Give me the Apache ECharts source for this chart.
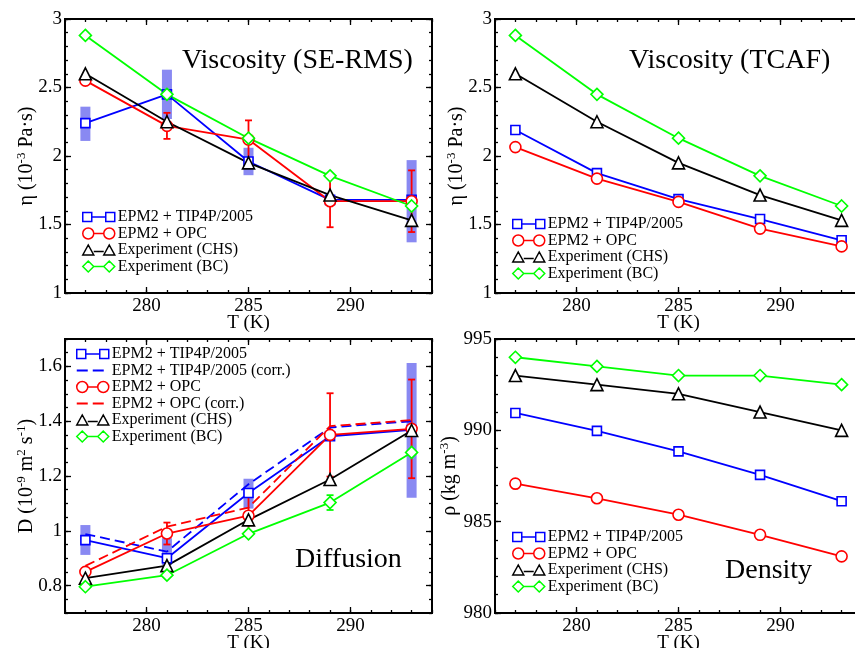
<!DOCTYPE html>
<html><head><meta charset="utf-8">
<script src="https://cdn.jsdelivr.net/npm/echarts@6/dist/echarts.min.js"></script>
<style>html,body{margin:0;padding:0;background:#fff}#c{width:855px;height:648px}</style>
</head><body><div id="c"></div>
<script>
// ---------- data ----------
const T = [277, 281, 285, 289, 293];
const xTickLabels = [280, 285, 290];

// Viscosity (SE-RMS)
const visSE_tip = [2.24, 2.45, 1.96, 1.68, 1.68];
const visSE_tipBandLo = [2.11, 2.27, 1.86, null, 1.37];
const visSE_tipBandHi = [2.36, 2.63, 2.06, null, 1.97];
const visSE_opc = [2.55, 2.22, 2.12, 1.67, 1.67];
const visSE_opcErr = [null, 0.095, 0.14, 0.19, 0.225];
// Viscosity (TCAF)
const visTC_tip = [2.19, 1.875, 1.685, 1.54, 1.385];
const visTC_opc = [2.065, 1.835, 1.665, 1.47, 1.34];
// Experiment viscosity
const visExpCHS = [2.60, 2.25, 1.95, 1.715, 1.53];
const visExpBC = [2.88, 2.45, 2.13, 1.855, 1.635];
const visTicks = [1, 1.5, 2, 2.5, 3];

// Diffusion
const D_tip = [0.966, 0.90, 1.138, 1.345, 1.368];
const D_tipBandLo = [0.912, 0.875, 1.081, null, 1.121];
const D_tipBandHi = [1.021, 0.973, 1.19, null, 1.612];
const D_tipCorr = [0.988, 0.924, 1.17, 1.377, 1.40];
const D_opc = [0.85, 0.99, 1.055, 1.35, 1.372];
const D_opcErr = [null, 0.04, 0.075, 0.152, 0.18];
const D_opcCorr = [0.872, 1.015, 1.085, 1.382, 1.404];
const D_expCHS = [0.827, 0.873, 1.04, 1.187, 1.366];
const D_expBC = [0.796, 0.838, 0.989, 1.103, 1.286];
const D_expBCErr = [null, null, null, 0.027, null];
const DTicks = [0.8, 1, 1.2, 1.4, 1.6];

// Density
const rho_tip = [990.95, 989.97, 988.85, 987.56, 986.12];
const rho_opc = [987.08, 986.28, 985.38, 984.28, 983.1];
const rho_expCHS = [993, 992.5, 992, 991, 990];
const rho_expBC = [994, 993.5, 993, 993, 992.5];
const rhoTicks = [980, 985, 990, 995];

const N_TIP = 'EPM2 + TIP4P/2005', N_TIPC = 'EPM2 + TIP4P/2005 (corr.)';
const N_OPC = 'EPM2 + OPC', N_OPCC = 'EPM2 + OPC (corr.)';
const N_CHS = 'Experiment (CHS)', N_BC = 'Experiment (BC)';

// ---------- styling ----------
const F = 'Liberation Serif';
const BLUE = '#0000ff', RED = '#ff0000', BLACK = '#000000', GREEN = '#00ff00';
const BAND = 'rgba(20,20,230,0.5)';

const grids = [
  {left: 65, top: 19, width: 367, height: 274},
  {left: 495, top: 19, width: 367, height: 274},
  {left: 65, top: 339, width: 367, height: 274},
  {left: 495, top: 339, width: 367, height: 274}
].map(g => Object.assign(g, {show: true, borderColor: '#000', borderWidth: 2, backgroundColor: 'transparent', outerBoundsMode: 'none', containLabel: false}));

const tickLine = {color: '#000', width: 1.3};
const labelStyle = {color: '#000', fontFamily: F, fontSize: 19};
const richName = {
  n: {fontFamily: F, fontSize: 20, color: '#000', lineHeight: 23},
  s: {fontFamily: F, fontSize: 13, color: '#000', verticalAlign: 'top', lineHeight: 13}
};

function xAxesFor(g) {
  const base = {type: 'value', gridIndex: g, min: 276, max: 294, splitLine: {show: false}, axisLine: {show: false}};
  return [
    Object.assign({}, base, {position: 'bottom', interval: 1,
      axisTick: {show: true, inside: true, length: 3, lineStyle: tickLine},
      axisLabel: Object.assign({customValues: xTickLabels, margin: 4}, labelStyle),
      name: 'T (K)', nameLocation: 'middle', nameGap: 21, nameMoveOverlap: false,
      nameTextStyle: {fontFamily: F, fontSize: 19, color: '#000'}}),
    Object.assign({}, base, {position: 'bottom',
      axisTick: {show: true, inside: true, length: 6, customValues: xTickLabels, lineStyle: tickLine},
      axisLabel: {show: false}}),
    Object.assign({}, base, {position: 'top', interval: 1,
      axisTick: {show: true, inside: true, length: 3, lineStyle: tickLine},
      axisLabel: {show: false}}),
    Object.assign({}, base, {position: 'top',
      axisTick: {show: true, inside: true, length: 6, customValues: xTickLabels, lineStyle: tickLine},
      axisLabel: {show: false}})
  ];
}
function yAxesFor(g, min, max, minor, majors, name, gap) {
  const base = {type: 'value', gridIndex: g, min: min, max: max, splitLine: {show: false}, axisLine: {show: false}};
  return [
    Object.assign({}, base, {position: 'left', interval: minor,
      axisTick: {show: true, inside: true, length: 3, lineStyle: tickLine},
      axisLabel: Object.assign({customValues: majors, margin: 3}, labelStyle),
      name: name, nameLocation: 'middle', nameGap: gap, nameMoveOverlap: false,
      nameTextStyle: {rich: richName}}),
    Object.assign({}, base, {position: 'left',
      axisTick: {show: true, inside: true, length: 6, customValues: majors, lineStyle: tickLine},
      axisLabel: {show: false}}),
    Object.assign({}, base, {position: 'right', interval: minor,
      axisTick: {show: true, inside: true, length: 3, lineStyle: tickLine},
      axisLabel: {show: false}}),
    Object.assign({}, base, {position: 'right',
      axisTick: {show: true, inside: true, length: 6, customValues: majors, lineStyle: tickLine},
      axisLabel: {show: false}})
  ];
}

const etaName = '{n|η (10}{s|-3}{n| Pa·s)}';
const DName = '{n|D (10}{s|-9}{n| m}{s|2}{n| s}{s|-1}{n|)}';
const rhoName = '{n|ρ (kg m}{s|-3}{n|)}';

const xAxis = [].concat(xAxesFor(0), xAxesFor(1), xAxesFor(2), xAxesFor(3));
const yAxis = [].concat(
  yAxesFor(0, 1, 3, 0.1, visTicks, etaName, 27),
  yAxesFor(1, 1, 3, 0.1, visTicks, etaName, 27),
  yAxesFor(2, 0.7, 1.7, 0.05, DTicks, DName, 27),
  yAxesFor(3, 980, 995, 1, rhoTicks, rhoName, 34)
);

const SYM = {
  tip: {symbol: 'rect', size: 9},
  opc: {symbol: 'circle', size: 11},
  chs: {symbol: 'triangle', size: 12},
  bc: {symbol: 'diamond', size: 12}
};

function line(name, g, ys, color, sym, dashed) {
  return {
    type: 'line', name: name, xAxisIndex: 4 * g, yAxisIndex: 4 * g,
    data: T.map((t, i) => [t, ys[i]]),
    symbol: sym ? sym.symbol : 'none', symbolSize: sym ? sym.size : 0, showSymbol: !!sym,
    lineStyle: {color: color, width: 1.8, type: dashed ? [10, 5] : 'solid'},
    itemStyle: {color: '#ffffff', borderColor: color, borderWidth: 1.6},
    emphasis: {disabled: true}, silent: true, animation: false
  };
}
function band(name, g, lo, hi) {
  const data = [];
  T.forEach((t, i) => { if (lo[i] != null) data.push([t, lo[i], hi[i]]); });
  return {
    type: 'custom', name: name, xAxisIndex: 4 * g, yAxisIndex: 4 * g, data: data,
    encode: {x: 0, y: [1, 2]}, silent: true, animation: false,
    renderItem: function (params, api) {
      const x = api.value(0);
      const p1 = api.coord([x, api.value(1)]), p2 = api.coord([x, api.value(2)]);
      return {type: 'rect', shape: {x: p1[0] - 5, y: p2[1], width: 10, height: p1[1] - p2[1]}, style: {fill: BAND}};
    }
  };
}
function errbar(name, g, ys, errs, color) {
  const data = [];
  T.forEach((t, i) => { if (errs[i] != null) data.push([t, ys[i] - errs[i], ys[i] + errs[i]]); });
  return {
    type: 'custom', name: name, xAxisIndex: 4 * g, yAxisIndex: 4 * g, data: data,
    encode: {x: 0, y: [1, 2]}, silent: true, animation: false,
    renderItem: function (params, api) {
      const x = api.value(0);
      const lo = api.coord([x, api.value(1)]), hi = api.coord([x, api.value(2)]);
      const c = 3.5, st = {stroke: color, lineWidth: 1.8};
      return {type: 'group', children: [
        {type: 'line', shape: {x1: lo[0], y1: lo[1], x2: hi[0], y2: hi[1]}, style: st},
        {type: 'line', shape: {x1: lo[0] - c, y1: lo[1], x2: lo[0] + c, y2: lo[1]}, style: st},
        {type: 'line', shape: {x1: hi[0] - c, y1: hi[1], x2: hi[0] + c, y2: hi[1]}, style: st}
      ]};
    }
  };
}

const series = [
  // panel 1
  band('band1', 0, visSE_tipBandLo, visSE_tipBandHi),
  line(N_TIP, 0, visSE_tip, BLUE, SYM.tip),
  errbar('err1', 0, visSE_opc, visSE_opcErr, RED),
  line(N_OPC, 0, visSE_opc, RED, SYM.opc),
  line(N_CHS, 0, visExpCHS, BLACK, SYM.chs),
  line(N_BC, 0, visExpBC, GREEN, SYM.bc),
  // panel 2
  line(N_TIP, 1, visTC_tip, BLUE, SYM.tip),
  line(N_OPC, 1, visTC_opc, RED, SYM.opc),
  line(N_CHS, 1, visExpCHS, BLACK, SYM.chs),
  line(N_BC, 1, visExpBC, GREEN, SYM.bc),
  // panel 3
  band('band3', 2, D_tipBandLo, D_tipBandHi),
  line(N_TIP, 2, D_tip, BLUE, SYM.tip),
  line(N_TIPC, 2, D_tipCorr, BLUE, null, true),
  errbar('err3', 2, D_opc, D_opcErr, RED),
  line(N_OPC, 2, D_opc, RED, SYM.opc),
  line(N_OPCC, 2, D_opcCorr, RED, null, true),
  line(N_CHS, 2, D_expCHS, BLACK, SYM.chs),
  errbar('err3g', 2, D_expBC, D_expBCErr, GREEN),
  line(N_BC, 2, D_expBC, GREEN, SYM.bc),
  // panel 4
  line(N_TIP, 3, rho_tip, BLUE, SYM.tip),
  line(N_OPC, 3, rho_opc, RED, SYM.opc),
  line(N_CHS, 3, rho_expCHS, BLACK, SYM.chs),
  line(N_BC, 3, rho_expBC, GREEN, SYM.bc)
];

const ICON = {
  tip: 'path://M0,1L9,1L9,10L0,10Z M9,5.5L23,5.5 M23,1L32,1L32,10L23,10Z M0,0 M32,11',
  opc: 'path://M0,5.5A5.5,5.5,0,1,1,11,5.5A5.5,5.5,0,1,1,0,5.5Z M11,5.5L21,5.5 M21,5.5A5.5,5.5,0,1,1,32,5.5A5.5,5.5,0,1,1,21,5.5Z',
  chs: 'path://M0,10.5L5.5,0.5L11,10.5Z M11,7L21,7 M21,10.5L26.5,0.5L32,10.5Z M0,0 M32,11',
  bc: 'path://M0,5.5L5.5,0L11,5.5L5.5,11Z M11,5.5L21,5.5 M21,5.5L26.5,0L32,5.5L26.5,11Z',
  dash: 'path://M0,4.5L11,4.5L11,6.5L0,6.5Z M16,4.5L27,4.5L27,6.5L16,6.5Z M0,0 M32,11'
};
function item(name, icon, color, filled) {
  return {name: name, icon: icon,
    itemStyle: filled ? {color: color, borderWidth: 0} : {color: '#ffffff', borderColor: color, borderWidth: 1.5}};
}
function legendAt(left, top, items) {
  return {show: true, orient: 'vertical', left: left, top: top, padding: 0, itemGap: 0.5,
    itemWidth: 32, itemHeight: 11, selectedMode: false,
    textStyle: {fontFamily: F, fontSize: 16, color: '#000', padding: [0, 0, 0, -2]},
    data: items};
}
const std4 = [item(N_TIP, ICON.tip, BLUE), item(N_OPC, ICON.opc, RED), item(N_CHS, ICON.chs, BLACK), item(N_BC, ICON.bc, GREEN)];
const legend = [
  legendAt(82, 209, std4),
  legendAt(512, 216, std4),
  legendAt(76, 346, [item(N_TIP, ICON.tip, BLUE), item(N_TIPC, ICON.dash, BLUE, true),
    item(N_OPC, ICON.opc, RED), item(N_OPCC, ICON.dash, RED, true),
    item(N_CHS, ICON.chs, BLACK), item(N_BC, ICON.bc, GREEN)]),
  legendAt(512, 529, std4)
];

const titleStyle = {fontFamily: F, fontSize: 28, fontWeight: 'normal', color: '#000'};
const title = [
  {text: 'Viscosity (SE-RMS)', left: 182, top: 47, padding: 0, textStyle: titleStyle},
  {text: 'Viscosity (TCAF)', left: 629, top: 47, padding: 0, textStyle: titleStyle},
  {text: 'Diffusion', left: 295, top: 546, padding: 0, textStyle: titleStyle},
  {text: 'Density', left: 725, top: 557, padding: 0, textStyle: titleStyle}
];

const chart = echarts.init(document.getElementById('c'), null, {renderer: 'canvas'});
chart.setOption({
  animation: false,
  backgroundColor: '#ffffff',
  title: title,
  legend: legend,
  grid: grids,
  xAxis: xAxis,
  yAxis: yAxis,
  series: series
});
</script>
</body></html>
